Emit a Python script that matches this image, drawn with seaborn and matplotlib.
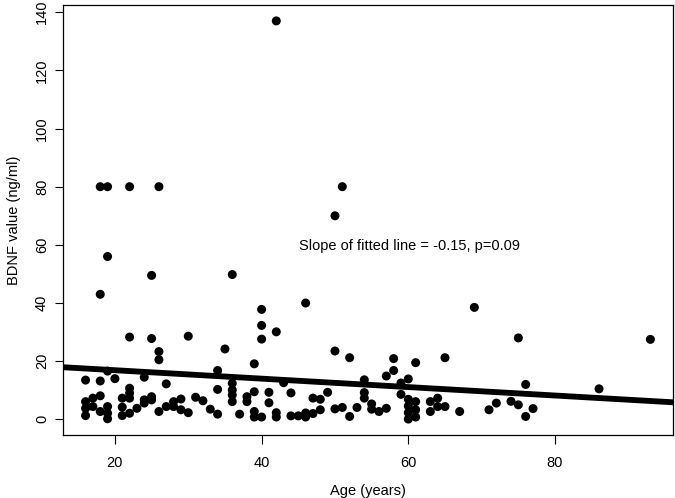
import matplotlib
matplotlib.use('Agg')
import matplotlib.pyplot as plt
import numpy as np
import pandas as pd
import seaborn as sns

# Age (years) of each subject
age = [42, 18, 19, 22, 26, 19, 25, 36, 18, 51, 50, 46, 69, 75, 93, 86,
       22, 25, 30, 26, 26, 35, 40, 40, 40, 42, 39, 34, 19, 50, 52, 58,
       61, 65, 58, 57, 54, 60, 59,
       76, 43, 36, 36, 36, 36, 34, 39, 41, 41, 44, 49, 54, 54, 59, 47, 48, 48,
       16, 18, 20, 24, 27,
       16, 16, 16, 17, 17, 18, 18, 19, 19, 19,
       21, 21, 21, 22, 22, 22, 22, 23, 24, 24, 25, 25, 26, 27, 28, 28, 29, 29,
       30, 31, 32, 33, 34,
       37, 38, 38, 39, 39, 40, 42, 42, 44, 45, 46, 46, 47,
       50, 51, 52, 53, 55, 55, 56, 57, 60, 60, 60, 60, 61, 61, 61, 63, 63,
       64, 64, 65, 67, 71, 72, 74, 75, 76, 77]

# BDNF value (ng/ml) of each subject
bdnf = [137, 80, 80, 80, 80, 56, 49.5, 49.8, 43, 80, 70, 40, 38.5, 28, 27.5, 10.5,
        28.3, 27.8, 28.6, 23.3, 20.5, 24.2, 37.8, 32.3, 27.6, 30.1, 19.1, 16.8, 16.6, 23.5, 21.2, 20.9,
        19.5, 21.2, 16.8, 14.9, 13.6, 13.9, 12.5,
        12.0, 12.6, 12.4, 10.1, 8.4, 6.1, 10.3, 9.5, 9.3, 5.7, 9.1, 9.3, 9.2, 7.3, 8.6, 7.3, 6.9, 3.3,
        13.5, 13.2, 14.0, 14.5, 12.2,
        6.1, 3.8, 1.3, 7.3, 4.4, 8.1, 2.7, 4.4, 2.1, 0.2,
        7.3, 4.2, 1.3, 10.7, 9.0, 7.3, 2.1, 3.8, 5.6, 6.7, 7.8, 6.7, 2.7, 4.4, 6.1, 4.4, 7.0, 3.3,
        2.3, 7.6, 6.4, 3.5, 1.8,
        1.8, 7.8, 6.1, 2.7, 0.8, 0.8, 2.3, 0.8, 1.2, 1.2, 2.2, 0.8, 2.0,
        3.6, 4.1, 1.0, 4.1, 5.3, 3.5, 2.7, 3.8, 6.9, 4.6, 2.3, 0.1, 6.1, 3.3, 0.8, 6.1, 2.7,
        7.3, 4.4, 4.4, 2.7, 3.3, 5.6, 6.2, 5.0, 1.0, 3.7]

# fitted regression line
fit_intercept = 19.8
fit_slope = -0.145
annotation = 'Slope of fitted line = -0.15, p=0.09'

x_ticks = [20, 40, 60, 80]
y_ticks = [0, 20, 40, 60, 80, 100, 120, 140]

df = pd.DataFrame({'age': age, 'bdnf': bdnf})

sns.set_theme(style='ticks')
plt.rcParams['font.family'] = ['Liberation Sans', 'DejaVu Sans']
plt.rcParams['text.color'] = 'black'
plt.rcParams['axes.labelcolor'] = 'black'
plt.rcParams['xtick.color'] = 'black'
plt.rcParams['ytick.color'] = 'black'

fs = 10.5

fig = plt.figure(figsize=(6.75, 4.98), dpi=100)
ax = fig.add_axes([0.0933, 0.1265, 0.9037, 0.8635])

sns.scatterplot(data=df, x='age', y='bdnf', ax=ax, color='black',
                s=42, edgecolor='none', linewidth=0)
ax.axline((0, fit_intercept), slope=fit_slope, color='black', linewidth=4.2)

# R-style axis ranges (4% padding)
xr = max(age) - min(age)
yr = max(bdnf) - min(bdnf)
ax.set_xlim(min(age) - 0.04 * xr, max(age) + 0.04 * xr)
ax.set_ylim(min(bdnf) - 0.04 * yr, max(bdnf) + 0.04 * yr)

ax.text(45.1, 59.6, annotation, fontsize=fs, va='center', ha='left')

ax.set_xticks(x_ticks)
ax.set_yticks(y_ticks)
ax.set_xticklabels([str(t) for t in x_ticks], fontsize=fs)
ax.set_yticklabels([str(t) for t in y_ticks], fontsize=fs, rotation=90, va='center')
ax.tick_params(axis='both', direction='out', width=0.8)
ax.tick_params(axis='x', length=6.5, pad=8.5)
ax.tick_params(axis='y', length=5.5, pad=4.5)

for side in ['top', 'right', 'left', 'bottom']:
    ax.spines[side].set_visible(True)
    ax.spines[side].set_color('black')
    ax.spines[side].set_linewidth(0.9)

ax.set_xlabel('Age (years)', fontsize=fs, labelpad=10)
ax.set_ylabel('BDNF value (ng/ml)', fontsize=fs, labelpad=10)

fig.savefig('out.png', dpi=100)
